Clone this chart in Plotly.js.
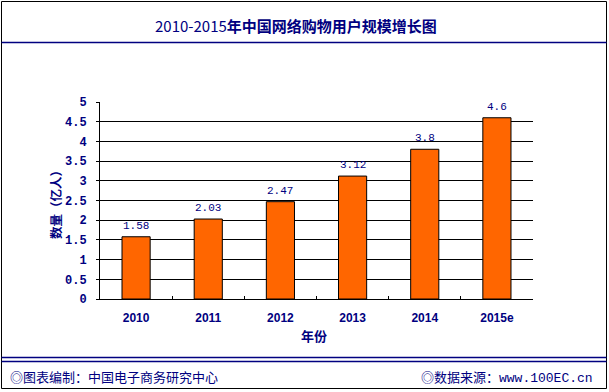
<!DOCTYPE html>
<html>
<head>
<meta charset="utf-8">
<script src="https://cdn.plot.ly/plotly-3.0.1.min.js"></script>
<style>html,body{margin:0;padding:0;background:#fff;}#chart{width:609px;height:392px;}</style>
</head>
<body>
<div id="chart"></div>
<script>
var categories = ['2010', '2011', '2012', '2013', '2014', '2015e'];
var users = [1.58, 2.03, 2.47, 3.12, 3.8, 4.6];
var valueLabels = ['1.58', '2.03', '2.47', '3.12', '3.8', '4.6'];
var gridValues = [0.5, 1, 1.5, 2, 2.5, 3, 3.5, 4, 4.5];
var titleText = '2010-2015<b>年中国网络购物用户规模增长图</b>';
var yTitle = '数量（亿人）';
var xTitle = '年份';
var footLeft = '◎图表编制：中国电子商务研究中心';
var footRight = '◎数据来源：<span style="font-family:Liberation Mono">www.100EC.cn</span>';

var navy = '#000080';
var cjk = '"Noto Sans CJK SC", sans-serif';

var trace = {
  type: 'bar',
  x: categories,
  y: users,
  text: valueLabels,
  textposition: 'none',
  marker: {color: '#FF6600', line: {color: '#000000', width: 1}},
  width: 0.39,
  hoverinfo: 'none'
};
var gridTrace = {type: 'scatter', x: [categories[0]], y: [0], yaxis: 'y2', mode: 'markers', marker: {opacity: 0}, hoverinfo: 'none', showlegend: false};

function px(x) { return (x - 100) / 433; }
function py(y) { return (299 - y) / 197; }

var annotations = [
  {xref: 'paper', yref: 'paper', x: px(296), y: py(25), text: titleText, showarrow: false, xanchor: 'center', yanchor: 'middle', font: {family: cjk, size: 15, color: navy}},
  {xref: 'paper', yref: 'paper', x: px(55), y: py(202), text: '<b>' + yTitle + '</b>', textangle: -90, showarrow: false, xanchor: 'center', yanchor: 'middle', font: {family: cjk, size: 12.5, color: navy}},
  {xref: 'paper', yref: 'paper', x: px(314), y: py(335), text: '<b>' + xTitle + '</b>', showarrow: false, xanchor: 'center', yanchor: 'middle', font: {family: cjk, size: 13, color: navy}},
  {xref: 'paper', yref: 'paper', x: px(8), y: py(376), text: footLeft, showarrow: false, xanchor: 'left', yanchor: 'middle', font: {family: cjk, size: 13, color: navy}},
  {xref: 'paper', yref: 'paper', x: px(595), y: py(376), text: footRight, showarrow: false, xanchor: 'right', yanchor: 'middle', font: {family: cjk, size: 13, color: navy}}
];
users.forEach(function (v, i) {
  annotations.push({x: i, y: v, xref: 'x', yref: 'y', text: valueLabels[i], showarrow: false, xanchor: 'center', yanchor: 'bottom', yshift: 3, font: {family: 'Liberation Mono', size: 11, color: navy}});
});

var layout = {
  width: 609, height: 392,
  margin: {l: 100, r: 76, t: 102, b: 93},
  paper_bgcolor: '#ffffff', plot_bgcolor: '#ffffff',
  showlegend: false,
  font: {family: cjk, color: navy},
  xaxis: {
    type: 'category',
    categoryorder: 'array', categoryarray: categories,
    range: [-0.5, categories.length - 0.5],
    showline: true, linecolor: '#000000', linewidth: 1,
    ticks: 'inside', tickson: 'boundaries', ticklen: 3, tickcolor: '#000000',
    showgrid: false, zeroline: false,
    tickfont: {family: 'Liberation Sans', size: 12, color: navy, weight: 'bold'},
    ticklabelstandoff: 8,
    fixedrange: true
  },
  yaxis: {
    range: [0, 5], tick0: 0, dtick: 0.5,
    showline: true, linecolor: '#000000', linewidth: 1,
    ticks: 'outside', ticklen: 3, tickcolor: '#000000',
    showgrid: false, zeroline: false,
    tickfont: {family: 'Liberation Mono', size: 12, color: navy, weight: 'bold'},
    ticklabelstandoff: 7,
    fixedrange: true
  },
  yaxis2: {
    overlaying: 'y', range: [0, 5],
    tickvals: gridValues, showticklabels: false, ticks: '',
    showgrid: true, gridcolor: '#000000', gridwidth: 1,
    showline: false, zeroline: false, fixedrange: true
  },
  shapes: [
    {type: 'rect', xref: 'paper', yref: 'paper', x0: px(1.5), x1: px(606.5), y0: py(388.5), y1: py(1.5), line: {color: '#000000', width: 1}},
    {type: 'line', xref: 'paper', yref: 'paper', x0: px(1.5), x1: px(606.5), y0: py(42.5), y1: py(42.5), line: {color: navy, width: 1.5}},
    {type: 'line', xref: 'paper', yref: 'paper', x0: px(1.5), x1: px(606.5), y0: py(357.5), y1: py(357.5), line: {color: navy, width: 1.5}},
    {type: 'line', xref: 'paper', yref: 'paper', x0: px(1.5), x1: px(606.5), y0: py(361.5), y1: py(361.5), line: {color: navy, width: 1.5}}
  ],
  annotations: annotations
};

Plotly.newPlot('chart', [trace, gridTrace], layout, {displayModeBar: false, staticPlot: true});
</script>
</body>
</html>
